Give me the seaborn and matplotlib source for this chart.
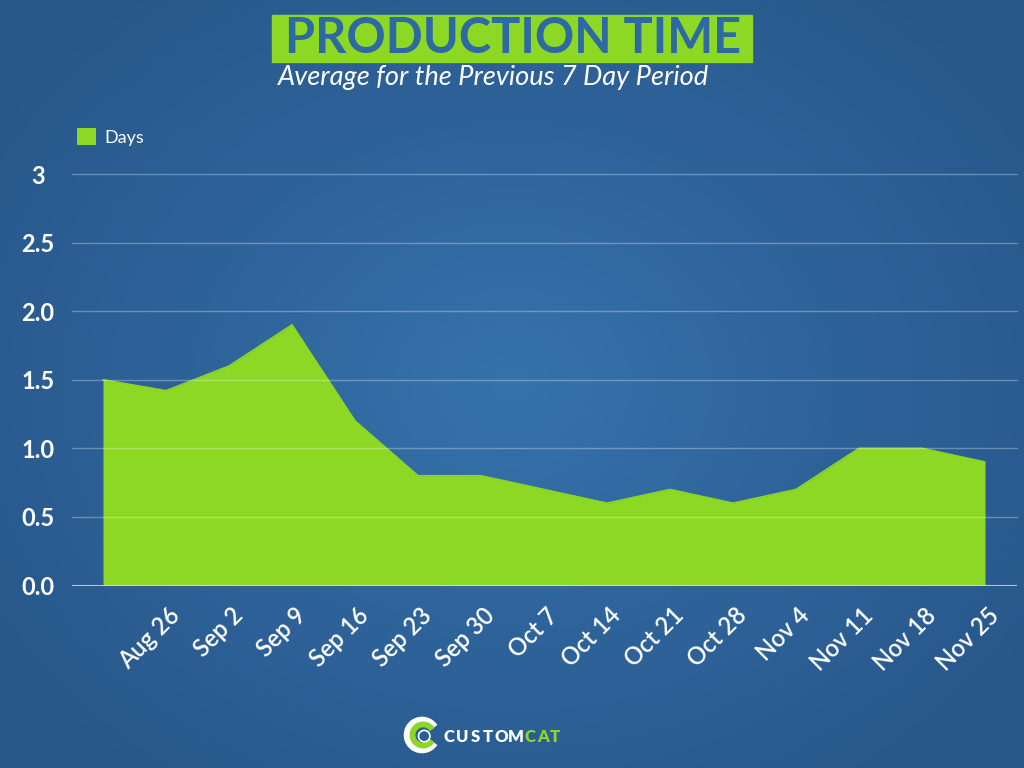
import numpy as np
import pandas as pd
import matplotlib.pyplot as plt
import matplotlib.transforms as mtransforms
from matplotlib.patches import Rectangle, Wedge, Circle
from matplotlib.colors import LinearSegmentedColormap
import seaborn as sns

sns.set_theme(style="white")
plt.rcParams["font.family"] = ["Lato", "DejaVu Sans"]

# data
week_idx = list(range(15))
days = [1.5, 1.42, 1.6, 1.9, 1.2, 0.8, 0.8, 0.7, 0.6, 0.7, 0.6, 0.7, 1.0, 1.0, 0.9]
week_labels = ["Aug 26", "Sep 2", "Sep 9", "Sep 16", "Sep 23", "Sep 30", "Oct 7",
               "Oct 14", "Oct 21", "Oct 28", "Nov 4", "Nov 11", "Nov 18", "Nov 25"]
y_ticks = [0, 0.5, 1.0, 1.5, 2.0, 2.5, 3]
y_labels = ["0.0", "0.5", "1.0", "1.5", "2.0", "2.5", "3"]

df = pd.DataFrame({"week": week_idx, "Days": days})

GREEN = "#8dd824"
TITLE_BLUE = "#2d69a3"

fig = plt.figure(figsize=(10.24, 7.68), dpi=100)

# radial blue background
bg = fig.add_axes([0, 0, 1, 1], zorder=-10)
yy, xx = np.mgrid[0:768, 0:1024]
r = np.sqrt(((xx - 512) / 640.0) ** 2 + ((yy - 384) / 520.0) ** 2)
cmap_bg = LinearSegmentedColormap.from_list("bg", ["#3673ab", "#2e639a", "#28578a"])
bg.imshow(np.clip(r, 0, 1), cmap=cmap_bg, vmin=0, vmax=1, aspect="auto")
bg.axis("off")

# main chart
ax = fig.add_axes([71.5 / 1024, 1 - 585.5 / 768, 945 / 1024, 411.5 / 768])
ax.set_facecolor("none")
ax.fill_between(df["week"], df["Days"], color=GREEN, lw=0, zorder=2, label="Days")
sns.lineplot(data=df, x="week", y="Days", color=GREEN, lw=1.2, ax=ax, zorder=3, legend=False)

ax.set_xlim(-0.5, 14.5)
ax.set_ylim(0, 3.0)
for v in y_ticks[1:]:
    ax.axhline(v, color="white", alpha=0.3, lw=1, zorder=4, clip_on=False)
ax.axhline(0, color="#cfe3f2", alpha=0.8, lw=1.5, zorder=4)

ax.set_xticks(range(1, 15))
ax.set_xticklabels(week_labels)
ax.set_yticks(y_ticks)
ax.set_yticklabels(y_labels)
ax.set_xlabel("")
ax.set_ylabel("")
ax.tick_params(axis="y", length=0, pad=24, labelsize=17, labelcolor="white")
ax.tick_params(axis="x", length=0, pad=19, labelsize=17, labelcolor="white")
for lab in ax.get_yticklabels():
    lab.set_ha("center")
    lab.set_fontweight("bold")
offset = mtransforms.ScaledTranslation(10 / 100, 0, fig.dpi_scale_trans)
for lab in ax.get_xticklabels():
    lab.set_rotation(45)
    lab.set_ha("right")
    lab.set_va("center")
    lab.set_rotation_mode("anchor")
    lab.set_fontweight("semibold")
    lab.set_transform(lab.get_transform() + offset)
for s in ax.spines.values():
    s.set_visible(False)

leg = ax.legend(loc="center left", bbox_to_anchor=(77 / 1024, 1 - 137 / 768),
                bbox_transform=fig.transFigure, frameon=False, fontsize=13,
                handlelength=1.05, handleheight=1.05, handletextpad=0.45,
                borderaxespad=0, borderpad=0)
for t in leg.get_texts():
    t.set_color("white")

# title block
fig.patches.append(Rectangle((272 / 1024, 1 - 62 / 768), 480 / 1024, 47 / 768,
                             transform=fig.transFigure, color=GREEN, zorder=1))
fig.text(513 / 1024, 1 - 38.5 / 768, "PRODUCTION TIME", ha="center", va="center",
         fontsize=35, fontweight="bold", color=TITLE_BLUE, zorder=2)
fig.text(278 / 1024, 1 - 77 / 768, "Average for the Previous 7 Day Period", ha="left",
         va="center", fontsize=19.6, style="italic", color="white")

# logo
logo = fig.add_axes([400 / 1024, 1 - 757 / 768, 44 / 1024, 44 / 768])
logo.set_xlim(-1, 1)
logo.set_ylim(-1, 1)
logo.set_aspect("equal")
logo.axis("off")
logo.add_patch(Wedge((0, 0), 0.8, 35, 325, width=0.22, color="white"))
logo.add_patch(Wedge((0.05, 0), 0.58, 35, 325, width=0.2, color=GREEN))
logo.add_patch(Circle((0.1, -0.05), 0.26, facecolor="none", edgecolor="white", lw=1.2))
letters = "CUSTOMCAT"
xpos = [449, 462, 475, 488, 501, 516, 530, 543, 555]
for i, (ch, xp) in enumerate(zip(letters, xpos)):
    fig.text(xp / 1024, 1 - 737 / 768, ch, ha="center", va="center",
             fontsize=12, fontweight="heavy",
             color="white" if i < 6 else GREEN)

fig.savefig("out.png", dpi=100)
